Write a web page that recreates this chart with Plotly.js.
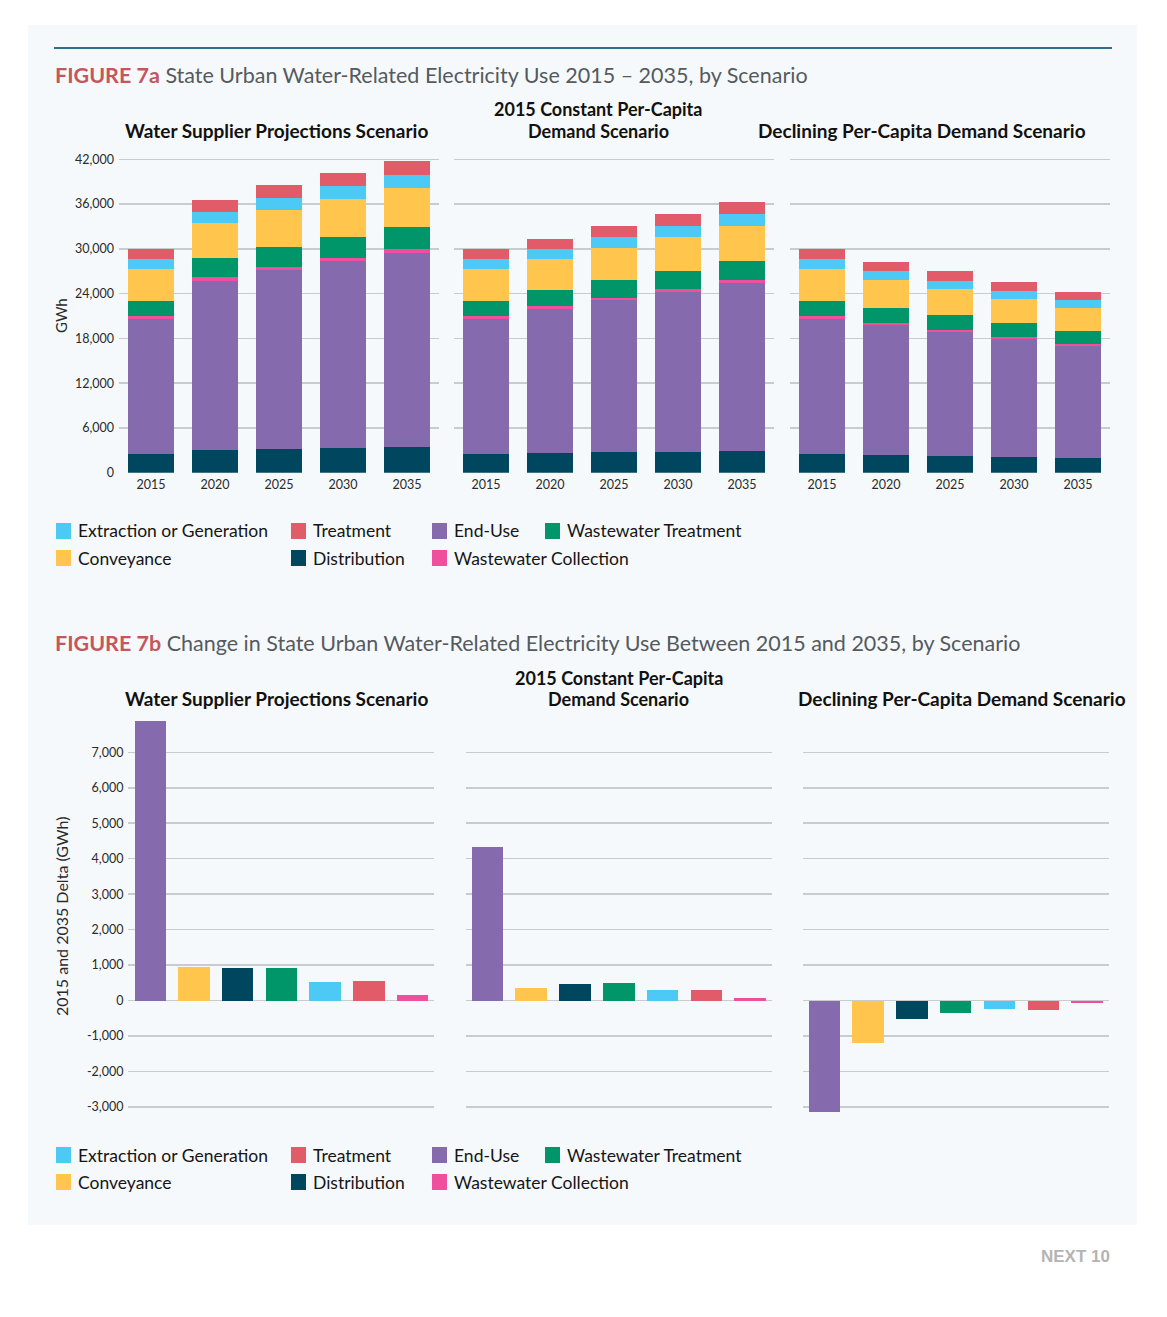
<!DOCTYPE html>
<html>
<head>
<meta charset="utf-8">
<script src="https://cdn.plot.ly/plotly-3.0.1.min.js"></script>
<style>html,body{margin:0;padding:0;background:#ffffff;}#chart{width:1167px;height:1317px;}</style>
</head>
<body>
<div id="chart"></div>
<script>
// ---------- DATA ----------
const years = ['2015', '2020', '2025', '2030', '2035'];

// Figure 7a – Water Supplier Projections Scenario (GWh)
const supDistribution = [2500, 3040, 3170, 3310, 3440];
const supEndUse       = [18100, 22700, 24040, 25020, 26000];
const supWwCollection = [400, 450, 380, 450, 490];
const supWwTreatment  = [2010, 2550, 2720, 2820, 2950];
const supConveyance   = [4330, 4690, 4960, 5090, 5320];
const supExtraction   = [1300, 1520, 1610, 1740, 1740];
const supTreatment    = [1340, 1610, 1700, 1790, 1880];

// 2015 Constant Per-Capita Demand Scenario
const conDistribution = [2500, 2590, 2720, 2820, 2900];
const conEndUse       = [18100, 19350, 20380, 21450, 22560];
const conWwCollection = [400, 360, 360, 400, 400];
const conWwTreatment  = [2010, 2150, 2320, 2410, 2550];
const conConveyance   = [4330, 4200, 4380, 4560, 4690];
const conExtraction   = [1300, 1300, 1430, 1480, 1610];
const conTreatment    = [1340, 1380, 1430, 1560, 1560];

// Declining Per-Capita Demand Scenario
const decDistribution = [2500, 2370, 2190, 2100, 1970];
const decEndUse       = [18100, 17470, 16670, 15820, 15060];
const decWwCollection = [400, 270, 310, 270, 270];
const decWwTreatment  = [2010, 2010, 1920, 1830, 1700];
const decConveyance   = [4330, 3750, 3530, 3310, 3130];
const decExtraction   = [1300, 1160, 1120, 1070, 1070];
const decTreatment    = [1340, 1250, 1250, 1210, 1070];

// Figure 7b – change 2015 to 2035 (GWh)
const deltaCategories = ['End-Use', 'Conveyance', 'Distribution', 'Wastewater Treatment', 'Extraction or Generation', 'Treatment', 'Wastewater Collection'];
const deltaSupplier  = [7880, 940, 930, 910, 525, 555, 150];
const deltaConstant  = [4340, 350, 460, 490, 300, 290, 70];
const deltaDeclining = [-3140, -1200, -525, -360, -235, -255, -65];

const topTicks = [0, 6000, 12000, 18000, 24000, 30000, 36000, 42000];
const topTickText = ['0', '6,000', '12,000', '18,000', '24,000', '30,000', '36,000', '42,000'];
const botTicks = [-3000, -2000, -1000, 0, 1000, 2000, 3000, 4000, 5000, 6000, 7000];
const botTickText = ['-3,000', '-2,000', '-1,000', '0', '1,000', '2,000', '3,000', '4,000', '5,000', '6,000', '7,000'];

// ---------- STYLE ----------
const colors = {
  'Extraction or Generation': '#4dc9f6',
  'Treatment': '#e15b69',
  'End-Use': '#856bae',
  'Wastewater Treatment': '#00966a',
  'Conveyance': '#ffc54d',
  'Distribution': '#00465e',
  'Wastewater Collection': '#ef4f9d'
};
const W = 1167, H = 1317;
const px = v => v / W;
const py = v => 1 - v / H;

const scenarios = [
  {ax: '', series: [['Distribution', supDistribution], ['End-Use', supEndUse], ['Wastewater Collection', supWwCollection], ['Wastewater Treatment', supWwTreatment], ['Conveyance', supConveyance], ['Extraction or Generation', supExtraction], ['Treatment', supTreatment]]},
  {ax: '2', series: [['Distribution', conDistribution], ['End-Use', conEndUse], ['Wastewater Collection', conWwCollection], ['Wastewater Treatment', conWwTreatment], ['Conveyance', conConveyance], ['Extraction or Generation', conExtraction], ['Treatment', conTreatment]]},
  {ax: '3', series: [['Distribution', decDistribution], ['End-Use', decEndUse], ['Wastewater Collection', decWwCollection], ['Wastewater Treatment', decWwTreatment], ['Conveyance', decConveyance], ['Extraction or Generation', decExtraction], ['Treatment', decTreatment]]}
];

const traces = [];
scenarios.forEach(sc => {
  sc.series.forEach(([name, vals]) => {
    traces.push({
      type: 'bar', x: years, y: vals, name: name,
      xaxis: 'x' + sc.ax, yaxis: 'y' + sc.ax,
      marker: {color: colors[name], line: {width: 0}},
      showlegend: false, hoverinfo: 'skip'
    });
  });
});
[[deltaSupplier, '4'], [deltaConstant, '5'], [deltaDeclining, '6']].forEach(([vals, ax]) => {
  traces.push({
    type: 'bar', x: deltaCategories, y: vals,
    xaxis: 'x' + ax, yaxis: 'y' + ax,
    marker: {color: deltaCategories.map(c => colors[c]), line: {width: 0}},
    showlegend: false, hoverinfo: 'skip'
  });
});

const tickFont = {family: 'Lato, sans-serif', size: 12.5, color: '#2a2a2a'};
const gridColor = '#c9ccce';

function topX(d) {
  return {domain: d, type: 'category', showgrid: false, zeroline: false, showline: false, ticks: '', tickfont: tickFont,
    ticklabelstandoff: 3, fixedrange: true};
}
function topY(anchor, showLabels) {
  return {anchor: anchor, domain: [py(472.7), py(157.06)], range: [0, 42300], tickvals: topTicks, ticktext: topTickText,
    showticklabels: showLabels, showgrid: true, gridcolor: gridColor, gridwidth: 1.5, zeroline: false, showline: false, ticks: '',
    tickfont: tickFont, ticklabelstandoff: 4, fixedrange: true};
}
function botX(d) {
  return {domain: d, type: 'category', showgrid: false, zeroline: false, showline: false, ticks: '', showticklabels: false, fixedrange: true};
}
function botY(anchor, showLabels) {
  return {anchor: anchor, domain: [py(1114), py(718.6)], range: [-3200, 7950], tickvals: botTicks, ticktext: botTickText,
    showticklabels: showLabels, showgrid: true, gridcolor: gridColor, gridwidth: 1.5, zeroline: false, showline: false, ticks: '',
    tickfont: tickFont, ticklabelstandoff: 4, fixedrange: true};
}

const titleFont = {family: 'Lato, sans-serif', size: 19, color: '#111111', weight: 700};
const titleFont2 = {family: 'Lato, sans-serif', size: 18, color: '#111111', weight: 700};
const figFont = {family: 'Lato, sans-serif', size: 21.5, color: '#555a5e'};
const annotations = [
  {text: '<span style="color:#c4565d;font-weight:bold">FIGURE 7a</span> State Urban Water-Related Electricity Use 2015 – 2035, by Scenario',
    x: px(53), y: py(75), xanchor: 'left', yanchor: 'middle', font: figFont},
  {text: '<span style="color:#c4565d;font-weight:bold">FIGURE 7b</span> Change in State Urban Water-Related Electricity Use Between 2015 and 2035, by Scenario',
    x: px(53), y: py(643), xanchor: 'left', yanchor: 'middle', font: figFont},
  {text: 'Water Supplier Projections Scenario', x: px(276), y: py(130), xanchor: 'center', yanchor: 'middle', font: titleFont},
  {text: '2015 Constant Per-Capita', x: px(598), y: py(109.5), xanchor: 'center', yanchor: 'middle', font: titleFont2},
  {text: 'Demand Scenario', x: px(598), y: py(131), xanchor: 'center', yanchor: 'middle', font: titleFont2},
  {text: 'Declining Per-Capita Demand Scenario', x: px(922), y: py(130), xanchor: 'center', yanchor: 'middle', font: titleFont},
  {text: 'Water Supplier Projections Scenario', x: px(276), y: py(698), xanchor: 'center', yanchor: 'middle', font: titleFont},
  {text: '2015 Constant Per-Capita', x: px(619), y: py(678.5), xanchor: 'center', yanchor: 'middle', font: titleFont2},
  {text: 'Demand Scenario', x: px(619), y: py(699), xanchor: 'center', yanchor: 'middle', font: titleFont2},
  {text: 'Declining Per-Capita Demand Scenario', x: px(962), y: py(698), xanchor: 'center', yanchor: 'middle', font: titleFont},
  {text: 'GWh', x: px(61), y: py(316), xanchor: 'center', yanchor: 'middle', textangle: -90, font: {family: 'Lato, sans-serif', size: 15, color: '#2a2a2a'}},
  {text: '2015 and 2035 Delta (GWh)', x: px(61), y: py(917), xanchor: 'center', yanchor: 'middle', textangle: -90, font: {family: 'Lato, sans-serif', size: 16, color: '#2a2a2a'}},
  {text: '<b>NEXT 10</b>', x: px(1112), y: py(1256), xanchor: 'right', yanchor: 'middle', font: {family: 'Liberation Sans, Arial, sans-serif', size: 17, color: '#b4b4b4'}}
];

const shapes = [
  {type: 'rect', xref: 'paper', yref: 'paper', x0: px(28), x1: px(1137), y0: py(1225), y1: py(25), fillcolor: '#f6f9fb', line: {width: 0}, layer: 'below'},
  {type: 'line', xref: 'paper', yref: 'paper', x0: px(54), x1: px(1112), y0: py(48), y1: py(48), line: {color: '#2f6d8c', width: 2}}
];

// legends
const legendItems = [
  ['Extraction or Generation', 56, 0], ['Treatment', 291, 0], ['End-Use', 432, 0], ['Wastewater Treatment', 545, 0],
  ['Conveyance', 56, 1], ['Distribution', 291, 1], ['Wastewater Collection', 432, 1]
];
[[531, 558], [1155, 1182]].forEach(rows => {
  legendItems.forEach(([name, x, r]) => {
    const yc = rows[r];
    shapes.push({type: 'rect', xref: 'paper', yref: 'paper', x0: px(x), x1: px(x + 15), y0: py(yc + 8), y1: py(yc - 8),
      fillcolor: colors[name], line: {width: 0}});
    annotations.push({text: name, x: px(x + 20), y: py(yc), xanchor: 'left', yanchor: 'middle',
      font: {family: 'Lato, sans-serif', size: 17.5, color: '#151515'}});
  });
});
annotations.forEach(a => { a.xref = 'paper'; a.yref = 'paper'; a.showarrow = false; });

const layout = {
  width: W, height: H, margin: {l: 0, r: 0, t: 0, b: 0},
  paper_bgcolor: '#ffffff', plot_bgcolor: 'rgba(0,0,0,0)',
  barmode: 'stack', bargap: 0.28, showlegend: false,
  xaxis: topX([px(119), px(439)]), yaxis: topY('x', true),
  xaxis2: topX([px(454), px(774)]), yaxis2: topY('x2', false),
  xaxis3: topX([px(790), px(1110)]), yaxis3: topY('x3', false),
  xaxis4: botX([px(128.4), px(434.4)]), yaxis4: botY('x4', true),
  xaxis5: botX([px(465.6), px(771.9)]), yaxis5: botY('x5', false),
  xaxis6: botX([px(802.6), px(1108.9)]), yaxis6: botY('x6', false),
  annotations: annotations, shapes: shapes
};

Plotly.newPlot('chart', traces, layout, {staticPlot: true, displayModeBar: false});
</script>
</body>
</html>
